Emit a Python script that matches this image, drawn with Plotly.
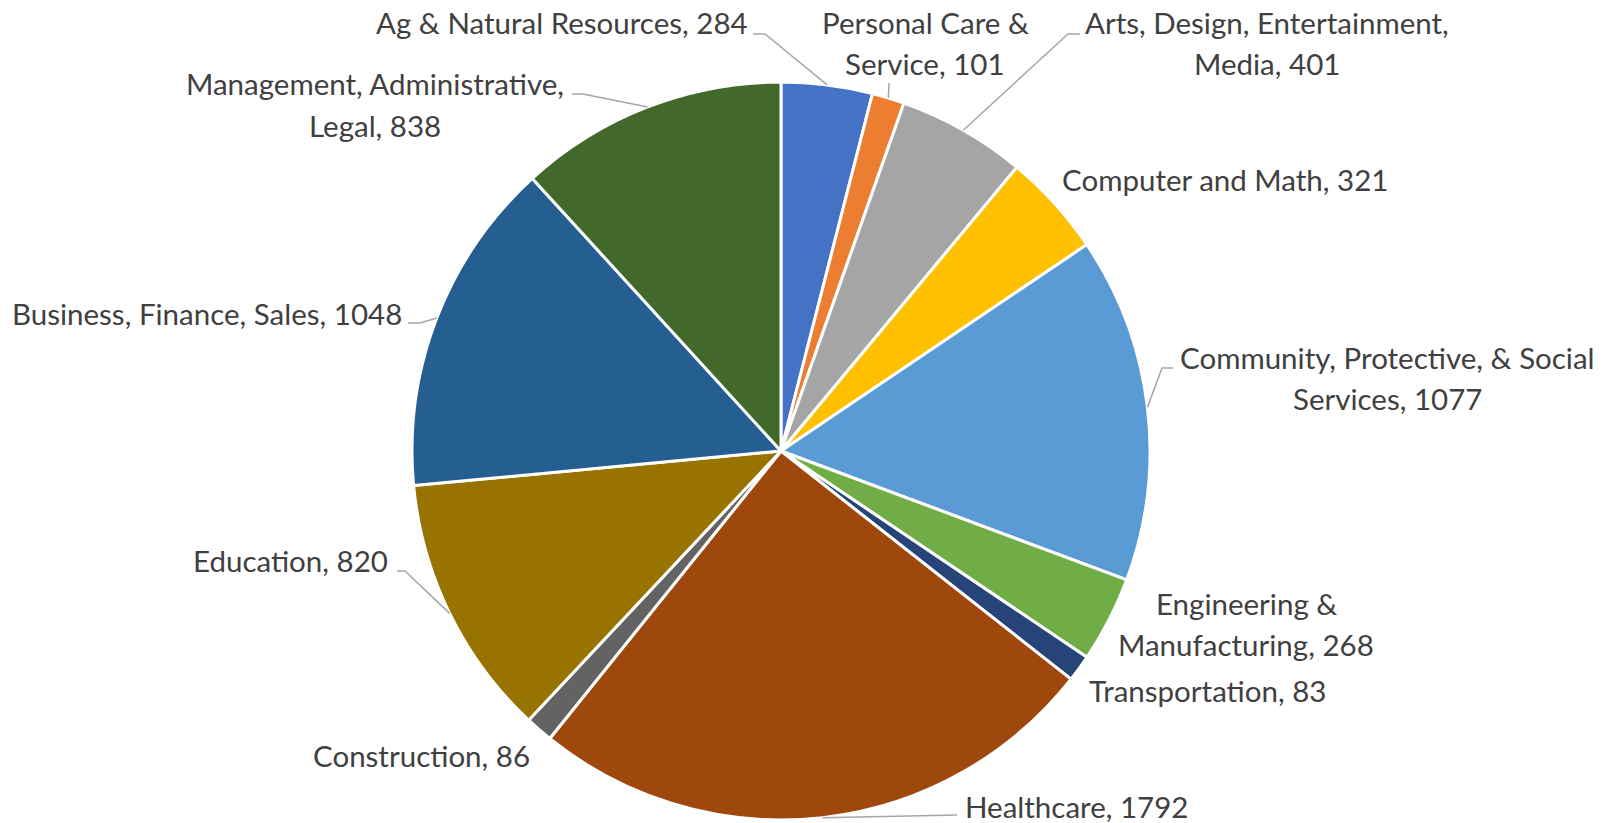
import math

import plotly.graph_objects as go

# data, clockwise from 12 o'clock
categories = [
    "Ag & Natural Resources",
    "Personal Care & Service",
    "Arts, Design, Entertainment, Media",
    "Computer and Math",
    "Community, Protective, & Social Services",
    "Engineering & Manufacturing",
    "Transportation",
    "Healthcare",
    "Construction",
    "Education",
    "Business, Finance, Sales",
    "Management, Administrative, Legal",
]
counts = [284, 101, 401, 321, 1077, 268, 83, 1792, 86, 820, 1048, 838]

colors = [
    "#4472C4", "#ED7D31", "#A5A5A5", "#FFC000", "#5B9BD5", "#70AD47",
    "#264478", "#9E480E", "#636363", "#997300", "#255E91", "#43682B",
]

W, H = 1603, 823
CX, CY, R = 781, 451, 369
FONT = "Lato"
FSIZE = 29.5
LINE_H = 41

# label layout: (x, y of first line, xanchor, words on first line or 0 = single line)
label_pos = [
    (750, 22, "right", 0),
    (925, 22, "center", 3),
    (1267, 22, "center", 3),
    (1060, 179, "left", 0),
    (1387, 357, "center", 4),
    (1246, 603, "center", 2),
    (1087, 690, "left", 0),
    (963, 806, "left", 0),
    (532, 755, "right", 0),
    (390, 560, "right", 0),
    (404, 313, "right", 0),
    (375, 84, "center", 2),
]

# leader line points from the label towards the slice (tip is added from the data)
leaders = [
    [(753, 34), (765, 34)],
    [(889, 83)],
    [(1080, 34), (1068, 34)],
    None,
    [(1173, 368), (1162, 368)],
    None,
    None,
    [(957, 815)],
    None,
    [(397, 571), (405, 571)],
    [(408, 323), (420, 323)],
    [(572, 94), (583, 94)],
]


def px(x, y):
    return x / W, 1 - y / H


fig = go.Figure(
    go.Pie(
        labels=categories,
        values=counts,
        sort=False,
        direction="clockwise",
        rotation=0,
        marker=dict(colors=colors, line=dict(color="white", width=3)),
        textinfo="none",
        hoverinfo="label+value",
        domain=dict(x=[(CX - R) / W, (CX + R) / W], y=[(H - CY - R) / H, (H - CY + R) / H]),
    )
)

total = sum(counts)
annotations = []
shapes = []
cum = 0
for cat, val, pos, lead in zip(categories, counts, label_pos, leaders):
    mid = (cum + val / 2) / total * 2 * math.pi
    cum += val
    x0, y0, anchor, nfirst = pos
    words = f"{cat}, {val}".split(" ")
    lines = [" ".join(words)] if nfirst == 0 else [" ".join(words[:nfirst]), " ".join(words[nfirst:])]
    for i, line in enumerate(lines):
        ax, ay = px(x0, y0 + i * LINE_H)
        annotations.append(dict(
            x=ax, y=ay, xref="paper", yref="paper", text=line, showarrow=False,
            xanchor=anchor, yanchor="middle",
            font=dict(family=FONT, size=FSIZE, color="#404040"),
        ))
    if lead:
        tip = (CX + R * math.sin(mid), CY - R * math.cos(mid))
        pts = [px(*p) for p in lead + [tip]]
        path = "M " + " L ".join(f"{a},{b}" for a, b in pts)
        shapes.append(dict(type="path", path=path, xref="paper", yref="paper",
                           line=dict(color="#A6A6A6", width=1.5)))

fig.update_layout(
    width=W,
    height=H,
    margin=dict(l=0, r=0, t=0, b=0),
    showlegend=False,
    paper_bgcolor="white",
    plot_bgcolor="white",
    annotations=annotations,
    shapes=shapes,
)

# drop the default 8px body margin so the figure fills the window exactly
fig.write_html(
    "out.html",
    config={"displayModeBar": False},
    post_script="document.body.style.margin='0';",
)
